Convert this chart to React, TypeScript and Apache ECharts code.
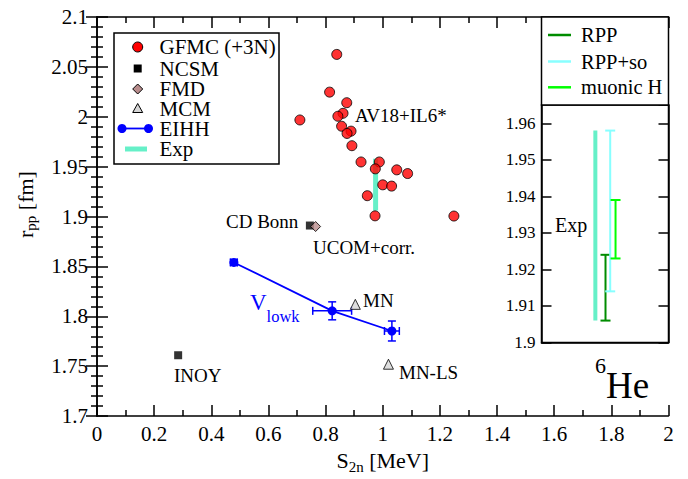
import React, { useEffect, useRef } from 'react';
import * as echarts from 'echarts';

// ---- data ----
const gfmcX = [0.839, 0.814, 0.874, 0.861, 0.843, 0.710, 0.856, 0.889, 0.875, 0.892, 0.924, 0.988, 0.974, 1.049, 1.087, 1.000, 1.031, 0.946, 0.973, 1.249];
const gfmcY = [2.0625, 2.0247, 2.0141, 2.0035, 2.0005, 1.9968, 1.9905, 1.9856, 1.9833, 1.9710, 1.9547, 1.9547, 1.9478, 1.9468, 1.9431, 1.9318, 1.9305, 1.9209, 1.9007, 1.9005];
const ncsmX = [0.745, 0.284];
const ncsmY = [1.891, 1.761];
const fmdX = [0.765];
const fmdY = [1.890];
const mcmX = [0.904, 1.020];
const mcmY = [1.812, 1.752];
const eihhX = [0.479, 0.823, 1.032];
const eihhY = [1.854, 1.8055, 1.7853];
const eihhXErr = [0.012, 0.068, 0.026];
const eihhYErr = [0.003, 0.009, 0.010];
const expX = [0.975];
const expLo = [1.906];
const expHi = [1.958];

// inset
const insetNames = ['Exp', 'RPP', 'RPP+so', 'muonic H'];
const insetX = [0.424, 0.504, 0.541, 0.583];
const insetLo = [1.906, 1.906, 1.914, 1.923];
const insetHi = [1.958, 1.924, 1.958, 1.939];

const FONT = "'Liberation Serif', 'Times New Roman', serif";
const BLACK = '#000';
const EXP_COLOR = '#66f0c8';
const insetColors = [EXP_COLOR, '#008c00', '#88ffff', '#00ff00'];

const lineSt = { color: BLACK, width: 1.5 };

function buildOption(): any {
  const mainTick = { show: true, inside: true, length: 11, lineStyle: lineSt };
  const mainMinor = (n: number) => ({ show: true, splitNumber: n, length: 6, lineStyle: lineSt });

  const xAxis = [
    {
      gridIndex: 0, type: 'value', position: 'bottom', min: 0, max: 2, interval: 0.2,
      axisLine: { show: true, lineStyle: lineSt }, axisTick: mainTick, minorTick: mainMinor(2),
      splitLine: { show: false }, minorSplitLine: { show: false },
      axisLabel: { fontFamily: FONT, fontSize: 21, color: BLACK, margin: 7 },
      name: '{m|S}{s|2n}{m| [MeV]}', nameLocation: 'middle', nameGap: 28,
      nameTextStyle: {
        fontFamily: FONT,
        rich: {
          m: { fontFamily: FONT, fontSize: 22, lineHeight: 22, color: BLACK, verticalAlign: 'top' },
          s: { fontFamily: FONT, fontSize: 15, lineHeight: 15, color: BLACK, verticalAlign: 'top', padding: [10, 0, 0, 0] },
        },
      },
    },
    {
      gridIndex: 0, type: 'value', position: 'top', min: 0, max: 2, interval: 0.2,
      axisLine: { show: true, lineStyle: lineSt }, axisTick: mainTick, minorTick: mainMinor(2),
      splitLine: { show: false }, axisLabel: { show: false },
    },
    {
      gridIndex: 1, type: 'value', min: 0, max: 1, z: 6,
      axisLine: { show: true, lineStyle: lineSt }, axisTick: { show: false },
      splitLine: { show: false }, axisLabel: { show: false },
    },
  ];

  const yAxis = [
    {
      gridIndex: 0, type: 'value', position: 'left', min: 1.7, max: 2.1, interval: 0.05,
      axisLine: { show: true, lineStyle: lineSt }, axisTick: mainTick, minorTick: mainMinor(5),
      splitLine: { show: false },
      axisLabel: { fontFamily: FONT, fontSize: 21, color: BLACK, margin: 9 },
      name: '{m|r}{s|pp}{m| [fm]}', nameLocation: 'middle', nameRotate: 90, nameGap: 61,
      nameTextStyle: {
        fontFamily: FONT,
        padding: [0, 0, 0, 24],
        rich: {
          m: { fontFamily: FONT, fontSize: 22, lineHeight: 22, color: BLACK, verticalAlign: 'top' },
          s: { fontFamily: FONT, fontSize: 15, lineHeight: 15, color: BLACK, verticalAlign: 'top', padding: [9, 0, 0, 0] },
        },
      },
    },
    {
      gridIndex: 0, type: 'value', position: 'right', min: 1.7, max: 2.1, interval: 0.05,
      axisLine: { show: true, lineStyle: lineSt }, axisTick: mainTick, minorTick: mainMinor(5),
      splitLine: { show: false }, axisLabel: { show: false },
    },
    {
      gridIndex: 1, type: 'value', position: 'left', min: 1.9, max: 1.965, interval: 0.01, z: 6,
      axisLine: { show: true, lineStyle: lineSt },
      axisTick: { show: true, inside: true, length: 10, lineStyle: lineSt },
      splitLine: { show: false },
      axisLabel: { fontFamily: FONT, fontSize: 17, color: BLACK, margin: 6, showMaxLabel: false },
    },
    {
      gridIndex: 1, type: 'value', position: 'right', min: 1.9, max: 1.965, interval: 0.01, z: 6,
      axisLine: { show: true, lineStyle: lineSt },
      axisTick: { show: true, inside: true, length: 10, lineStyle: lineSt },
      splitLine: { show: false }, axisLabel: { show: false },
    },
  ];

  const series: any[] = [
    {
      name: 'Exp', type: 'custom', xAxisIndex: 0, yAxisIndex: 0, z: 3,
      data: expX.map((x, i) => [x, expLo[i], expHi[i]]),
      renderItem: (_p: any, api: any) => {
        const a = api.coord([api.value(0), api.value(1)]);
        const b = api.coord([api.value(0), api.value(2)]);
        return { type: 'line', shape: { x1: a[0], y1: a[1], x2: b[0], y2: b[1] }, style: { stroke: EXP_COLOR, lineWidth: 5 } };
      },
    },
    {
      name: 'GFMC (+3N)', type: 'scatter', xAxisIndex: 0, yAxisIndex: 0, z: 4,
      symbol: 'circle', symbolSize: 10,
      itemStyle: { color: '#ff0000', borderColor: BLACK, borderWidth: 1 },
      data: gfmcX.map((x, i) => [x, gfmcY[i]]),
    },
    {
      name: 'NCSM', type: 'scatter', xAxisIndex: 0, yAxisIndex: 0, z: 4,
      symbol: 'rect', symbolSize: 8, itemStyle: { color: BLACK },
      data: ncsmX.map((x, i) => [x, ncsmY[i]]),
    },
    {
      name: 'FMD', type: 'scatter', xAxisIndex: 0, yAxisIndex: 0, z: 5,
      symbol: 'diamond', symbolSize: 10,
      itemStyle: { color: '#b88c8c', borderColor: BLACK, borderWidth: 1 },
      data: fmdX.map((x, i) => [x, fmdY[i]]),
    },
    {
      name: 'MCM', type: 'scatter', xAxisIndex: 0, yAxisIndex: 0, z: 4,
      symbol: 'triangle', symbolSize: 10,
      itemStyle: { color: '#d6d6d6', borderColor: BLACK, borderWidth: 1 },
      data: mcmX.map((x, i) => [x, mcmY[i]]),
    },
    {
      name: 'EIHH', type: 'line', xAxisIndex: 0, yAxisIndex: 0, z: 4,
      symbol: 'circle', symbolSize: 9, showAllSymbol: true,
      lineStyle: { color: '#0000ff', width: 1.8 }, itemStyle: { color: '#0000ff' },
      data: eihhX.map((x, i) => [x, eihhY[i]]),
    },
    {
      name: 'EIHH err', type: 'custom', xAxisIndex: 0, yAxisIndex: 0, z: 4,
      data: eihhX.map((x, i) => [x, eihhY[i], eihhXErr[i], eihhYErr[i]]),
      renderItem: (_p: any, api: any) => {
        const x = api.value(0), y = api.value(1), ex = api.value(2), ey = api.value(3);
        const l = api.coord([x - ex, y]);
        const r = api.coord([x + ex, y]);
        const t = api.coord([x, y + ey]);
        const b = api.coord([x, y - ey]);
        const cap = 4;
        const st = { stroke: '#0000ff', lineWidth: 1.5 };
        const ln = (x1: number, y1: number, x2: number, y2: number) => ({ type: 'line', shape: { x1, y1, x2, y2 }, style: st });
        return {
          type: 'group',
          children: [
            ln(l[0], l[1], r[0], r[1]),
            ln(l[0], l[1] - cap, l[0], l[1] + cap),
            ln(r[0], r[1] - cap, r[0], r[1] + cap),
            ln(t[0], t[1], b[0], b[1]),
            ln(t[0] - cap, t[1], t[0] + cap, t[1]),
            ln(b[0] - cap, b[1], b[0] + cap, b[1]),
          ],
        };
      },
    },
  ];

  insetNames.forEach((nm, i) => {
    series.push({
      name: 'inset ' + nm, type: 'custom', xAxisIndex: 2, yAxisIndex: 2, z: 10,
      data: [[insetX[i], insetLo[i], insetHi[i]]],
      renderItem: (_p: any, api: any) => {
        const a = api.coord([api.value(0), api.value(1)]);
        const b = api.coord([api.value(0), api.value(2)]);
        if (i === 0) {
          return { type: 'line', shape: { x1: a[0], y1: a[1], x2: b[0], y2: b[1] }, style: { stroke: insetColors[i], lineWidth: 4 } };
        }
        const st = { stroke: insetColors[i], lineWidth: 2 };
        const cap = 5;
        return {
          type: 'group',
          children: [
            { type: 'line', shape: { x1: a[0], y1: a[1], x2: b[0], y2: b[1] }, style: st },
            { type: 'line', shape: { x1: a[0] - cap, y1: a[1], x2: a[0] + cap, y2: a[1] }, style: st },
            { type: 'line', shape: { x1: b[0] - cap, y1: b[1], x2: b[0] + cap, y2: b[1] }, style: st },
          ],
        };
      },
    });
  });

  // ---- graphic: legends & annotations ----
  const txt = (text: string, x: number, y: number, size: number, color = BLACK, z = 20) => ({
    type: 'text', x, y, z,
    style: {
      text, font: `${size}px ${FONT}`, fontFamily: FONT, fontSize: size, lineHeight: Math.round(size * 0.9),
      fill: color, align: 'left', verticalAlign: 'middle',
    },
  });

  const legRows = [47, 68.5, 89, 108.5, 128.5, 149];
  const legNames = ['GFMC (+3N)', 'NCSM', 'FMD', 'MCM', 'EIHH', 'Exp'];
  const ix = 137.7;
  const graphic: any[] = [
    { type: 'rect', z: 20, shape: { x: 114, y: 33, width: 165, height: 131 }, style: { fill: '#fff', stroke: BLACK, lineWidth: 1.5 } },
    { type: 'circle', z: 21, shape: { cx: ix, cy: legRows[0], r: 5 }, style: { fill: '#ff0000', stroke: BLACK, lineWidth: 1 } },
    { type: 'rect', z: 21, shape: { x: ix - 4, y: legRows[1] - 4, width: 8, height: 8 }, style: { fill: BLACK } },
    { type: 'polygon', z: 21, shape: { points: [[ix, legRows[2] - 5], [ix + 5, legRows[2]], [ix, legRows[2] + 5], [ix - 5, legRows[2]]] }, style: { fill: '#b88c8c', stroke: BLACK, lineWidth: 1 } },
    { type: 'polygon', z: 21, shape: { points: [[ix, legRows[3] - 5], [ix + 5, legRows[3] + 4], [ix - 5, legRows[3] + 4]] }, style: { fill: '#d6d6d6', stroke: BLACK, lineWidth: 1 } },
    { type: 'line', z: 21, shape: { x1: 122, y1: legRows[4], x2: 148.5, y2: legRows[4] }, style: { stroke: '#0000ff', lineWidth: 1.8 } },
    { type: 'circle', z: 22, shape: { cx: 122, cy: legRows[4], r: 4.5 }, style: { fill: '#0000ff' } },
    { type: 'circle', z: 22, shape: { cx: 148.5, cy: legRows[4], r: 4.5 }, style: { fill: '#0000ff' } },
    { type: 'line', z: 21, shape: { x1: 125, y1: legRows[5], x2: 147, y2: legRows[5] }, style: { stroke: EXP_COLOR, lineWidth: 5 } },
    ...legNames.map((n, i) => txt(n, 159.5, legRows[i], 21, BLACK, 21)),

    // inset legend
    { type: 'rect', z: 20, shape: { x: 541.5, y: 17, width: 127, height: 88 }, style: { fill: '#fff', stroke: BLACK, lineWidth: 1.5 } },
    ...[1, 2, 3].map((k, j) => ({ type: 'line', z: 21, shape: { x1: 548, y1: [35, 61.5, 87.3][j], x2: 571, y2: [35, 61.5, 87.3][j] }, style: { stroke: insetColors[k], lineWidth: 2.5 } })),
    ...[1, 2, 3].map((k, j) => txt(insetNames[k], 581, [35, 61.5, 87.3][j], 20.5, BLACK, 21)),

    // annotations
    txt('AV18+IL6*', 355, 115, 19),
    txt('CD Bonn', 226, 221.5, 19),
    txt('UCOM+corr.', 313, 247, 19),
    txt('MN', 363, 300.5, 19),
    txt('MN-LS', 399, 372, 19),
    txt('INOY', 174, 375, 19),
    txt('Exp', 555, 225, 20, BLACK, 21),
    {
      type: 'text', x: 250, y: 291, z: 20,
      style: {
        text: '{v|V}{s|lowk}', fill: '#0000ff', align: 'left', verticalAlign: 'top', fontFamily: FONT,
        rich: {
          v: { fontFamily: FONT, fontSize: 23, lineHeight: 23, fill: '#0000ff', verticalAlign: 'top' },
          s: { fontFamily: FONT, fontSize: 16.5, lineHeight: 16.5, fill: '#0000ff', verticalAlign: 'top', padding: [16.5, 0, 0, 0] },
        },
      },
    },
    {
      type: 'text', x: 595, y: 354, z: 20,
      style: {
        text: '{a|6}{b|He}', fill: BLACK, align: 'left', verticalAlign: 'top', fontFamily: FONT,
        rich: {
          a: { fontFamily: FONT, fontSize: 22, lineHeight: 22, fill: BLACK, verticalAlign: 'top' },
          b: { fontFamily: FONT, fontSize: 37, lineHeight: 37, fill: BLACK, verticalAlign: 'top', padding: [13, 0, 0, 0] },
        },
      },
    },
  ];

  return {
    animation: false,
    backgroundColor: '#fff',
    textStyle: { fontFamily: FONT },
    grid: [
      { left: 97, top: 17, width: 571.5, height: 401.5, show: false },
      { left: 541.5, top: 105, width: 127, height: 237.5, show: true, backgroundColor: '#fff', borderColor: BLACK, borderWidth: 1.5, z: 5 },
    ],
    xAxis,
    yAxis,
    series,
    graphic,
  };
}

export default function App() {
  const ref = useRef<HTMLDivElement>(null);
  useEffect(() => {
    const chart = echarts.init(ref.current as HTMLDivElement, null, { renderer: 'svg' });
    chart.setOption(buildOption());
    return () => chart.dispose();
  }, []);
  return (
    <div
      ref={ref}
      style={{ position: 'absolute', left: 0, top: 0, width: 688, height: 479, background: '#fff' }}
    />
  );
}
